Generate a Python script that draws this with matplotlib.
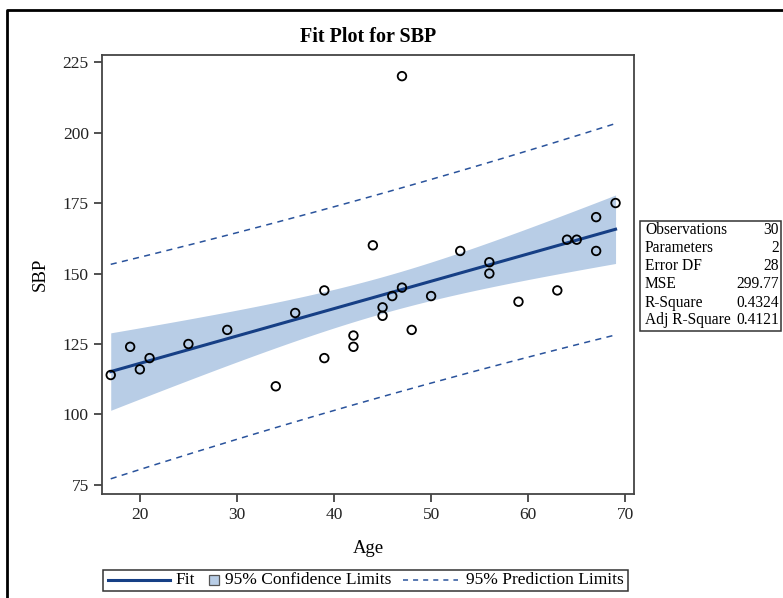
import numpy as np
import matplotlib
matplotlib.use("Agg")
import matplotlib.pyplot as plt
from matplotlib.lines import Line2D
from matplotlib.patches import Rectangle

plt.rcParams['font.family'] = ['Liberation Serif', 'DejaVu Serif']

# ----------------- DATA -----------------
age = [39, 47, 45, 47, 65, 46, 67, 42, 67, 56, 64, 56, 59, 34, 42,
       48, 45, 17, 20, 19, 36, 50, 39, 21, 44, 53, 63, 29, 25, 69]
sbp = [144, 220, 138, 145, 162, 142, 170, 124, 158, 154, 162, 150, 140, 110, 128,
       130, 135, 114, 116, 124, 136, 142, 120, 120, 160, 158, 144, 130, 125, 175]

stat_labels = ["Observations", "Parameters", "Error DF", "MSE", "R-Square", "Adj R-Square"]
stat_values = ["30", "2", "28", "299.77", "0.4324", "0.4121"]

legend_labels = ["Fit", "95% Confidence Limits", "95% Prediction Limits"]

t_crit = 2.0484  # t(0.975, 28)

# ----------------- FIT -----------------
x = np.array(age, dtype=float)
y = np.array(sbp, dtype=float)
n = len(x)
b1, b0 = np.polyfit(x, y, 1)
resid = y - (b0 + b1 * x)
mse = np.sum(resid ** 2) / (n - 2)
sxx = np.sum((x - x.mean()) ** 2)

xg = np.linspace(x.min(), x.max(), 200)
yhat = b0 + b1 * xg
se_mean = np.sqrt(mse * (1 / n + (xg - x.mean()) ** 2 / sxx))
se_pred = np.sqrt(mse * (1 + 1 / n + (xg - x.mean()) ** 2 / sxx))

fit_col = '#163f85'
band_col = '#b8cde6'
pred_col = '#2a539c'
dash = (0, (4, 3.5))

W, H = 783, 598


def fx(px):
    return px / W


def fy(py):
    return 1 - py / H


# ----------------- PLOT -----------------
fig = plt.figure(figsize=(7.83, 5.98), dpi=100)
ax = fig.add_axes([fx(102), fy(494), 532 / W, 439 / H])

ax.fill_between(xg, yhat - t_crit * se_mean, yhat + t_crit * se_mean,
                color=band_col, lw=0, zorder=1)
ax.plot(xg, yhat, color=fit_col, lw=2.2, zorder=3)
ax.plot(xg, yhat - t_crit * se_pred, color=pred_col, lw=1.1, ls=dash, zorder=2)
ax.plot(xg, yhat + t_crit * se_pred, color=pred_col, lw=1.1, ls=dash, zorder=2)
ax.scatter(x, y, s=38, facecolor='none', edgecolor='black', linewidth=1.3, zorder=4)

ax.set_xlim(16.1, 70.9)
ax.set_ylim(71.8, 227.5)
ax.set_xticks([20, 30, 40, 50, 60, 70])
ax.set_yticks([75, 100, 125, 150, 175, 200, 225])
ax.tick_params(labelsize=12.5, length=6, width=1.2, color='#333333', labelcolor='#222222')
for sp in ax.spines.values():
    sp.set_color('#444444')
    sp.set_linewidth(1.3)

ax.set_xlabel("Age", fontsize=13.5, labelpad=12)
ax.set_ylabel("SBP", fontsize=13.5, labelpad=10)
fig.text(fx(368), fy(37), "Fit Plot for SBP", ha='center', va='center',
         fontsize=14.5, fontweight='bold')

# ----------------- STATS TABLE -----------------
fig.patches.append(Rectangle((fx(640), fy(331)), 141 / W, 110 / H,
                             transform=fig.transFigure, fill=False,
                             edgecolor='#333333', lw=1.1))
for i, (lab, val) in enumerate(zip(stat_labels, stat_values)):
    yy = fy(230.5 + 18 * i)
    fig.text(fx(645), yy, lab, ha='left', va='center', fontsize=11.2)
    fig.text(fx(779), yy, val, ha='right', va='center', fontsize=11.2)

# ----------------- LEGEND -----------------
ly = fy(580)
fig.patches.append(Rectangle((fx(103), fy(591)), 525 / W, 21 / H,
                             transform=fig.transFigure, fill=False,
                             edgecolor='#333333', lw=1.1))
fig.add_artist(Line2D([fx(108), fx(170)], [ly, ly], transform=fig.transFigure,
                      color=fit_col, lw=2.2))
fig.text(fx(175), ly, legend_labels[0], ha='left', va='center', fontsize=12.5)
fig.patches.append(Rectangle((fx(208.5), fy(585)), 10.5 / W, 10.5 / H,
                             transform=fig.transFigure, facecolor=band_col,
                             edgecolor='#555555', lw=0.9))
fig.text(fx(225), ly, legend_labels[1], ha='left', va='center', fontsize=12.5)
fig.add_artist(Line2D([fx(403), fx(458)], [ly, ly], transform=fig.transFigure,
                      color=pred_col, lw=1.1, ls=(0, (3.3, 3.3))))
fig.text(fx(466), ly, legend_labels[2], ha='left', va='center', fontsize=12.5)

# ----------------- OUTER FRAME -----------------
fig.add_artist(Line2D([fx(7), fx(7), 1.0], [0.0, fy(9.5), fy(9.5)],
                      transform=fig.transFigure, color='black', lw=2))

fig.savefig("out.png", dpi=100)
